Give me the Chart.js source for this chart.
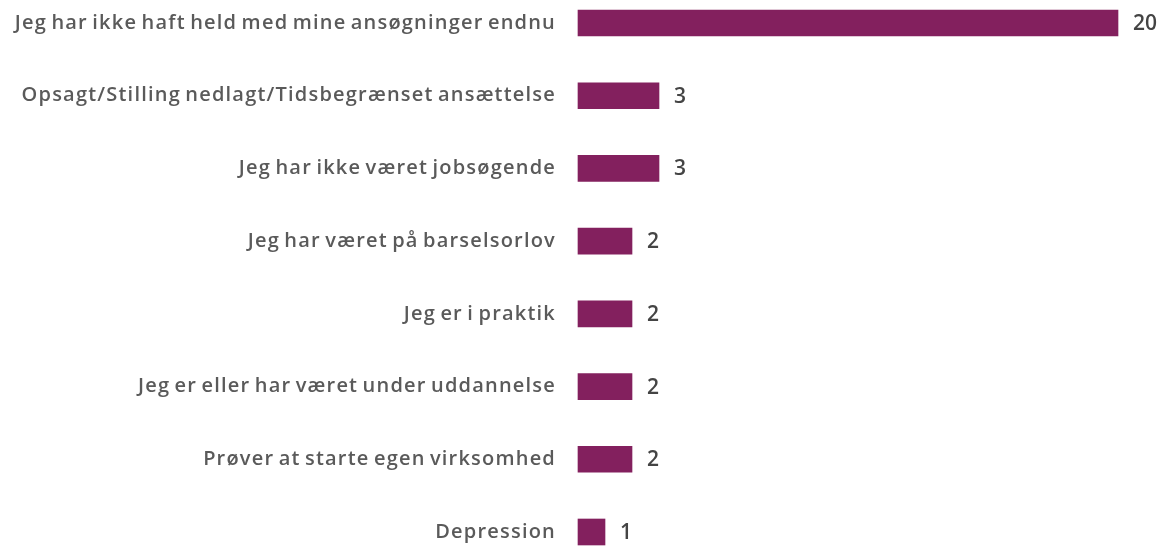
<!DOCTYPE html>
<html><head><meta charset="utf-8">
<script src="https://cdn.jsdelivr.net/npm/chart.js@4"></script>
<style>html,body{margin:0;padding:0;background:#fff}#wrap{width:1160px;height:546px}</style>
</head><body><div id="wrap"><canvas id="c"></canvas></div>
<script>
const categories = [
  "Jeg har ikke haft held med mine ansøgninger endnu",
  "Opsagt/Stilling nedlagt/Tidsbegrænset ansættelse",
  "Jeg har ikke været jobsøgende",
  "Jeg har været på barselsorlov",
  "Jeg er i praktik",
  "Jeg er eller har været under uddannelse",
  "Prøver at starte egen virksomhed",
  "Depression"
];
const values = [20, 3, 3, 2, 2, 2, 2, 1];

const FONT = "'Open Sans', sans-serif";
const TEXT = '#5a5a5a';

const spacingPlugin = {
  id: 'spacing',
  beforeDraw(chart) { chart.ctx.letterSpacing = '1.2px'; chart.ctx.wordSpacing = '-2px'; }
};
const valueLabels = {
  id: 'valueLabels',
  afterDatasetsDraw(chart) {
    const ctx = chart.ctx;
    const meta = chart.getDatasetMeta(0);
    ctx.save();
    ctx.letterSpacing = '0px';
    ctx.wordSpacing = '0px';
    ctx.font = '600 21px ' + FONT;
    ctx.fillStyle = '#444';
    ctx.textBaseline = 'middle';
    ctx.textAlign = 'left';
    meta.data.forEach((bar, i) => {
      ctx.fillText(String(values[i]), bar.x + 15, bar.y + 1);
    });
    ctx.restore();
  }
};

new Chart(document.getElementById('c'), {
  type: 'bar',
  data: { labels: categories, datasets: [{ data: values, backgroundColor: '#83205e', barThickness: 26, clip: false }] },
  options: {
    indexAxis: 'y', responsive: true, maintainAspectRatio: false, animation: false,
    layout: { padding: { top: 23, bottom: 14, right: 42, left: 0 } },
    plugins: { legend: { display: false }, tooltip: { enabled: false } },
    scales: {
      x: { display: false, min: 0, max: 20 },
      y: {
        offset: false,
        grid: { display: false, drawBorder: false },
        border: { display: false },
        ticks: { color: TEXT, font: { family: FONT, size: 20, weight: '600' }, padding: 14 },
        afterFit(s) { s.width = 578; s.paddingTop = 0; s.paddingBottom = 0; }
      }
    }
  },
  plugins: [spacingPlugin, valueLabels]
});
</script></body></html>
